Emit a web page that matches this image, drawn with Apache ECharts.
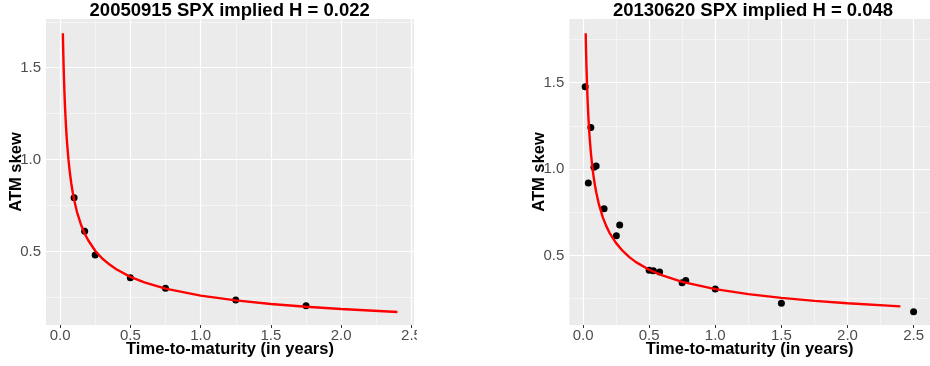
<!DOCTYPE html>
<html>
<head>
<meta charset="utf-8">
<script src="https://cdn.jsdelivr.net/npm/echarts@6/dist/echarts.min.js"></script>
<style>
  html, body { margin: 0; padding: 0; background: #ffffff; }
  #chart { width: 930px; height: 366px; }
</style>
</head>
<body>
<div id="chart"></div>
<script>
// ---------- data ----------
const leftTitle = '20050915 SPX implied H = 0.022';
const rightTitle = '20130620 SPX implied H = 0.048';
const xName = 'Time-to-maturity (in years)';
const yName = 'ATM skew';

// observed ATM skews (points)
const leftT    = [0.1, 0.175, 0.25, 0.5, 0.75, 1.25, 1.75];
const leftSkew = [0.793, 0.610, 0.481, 0.357, 0.300, 0.236, 0.205];

const rightT    = [0.016, 0.04, 0.059, 0.082, 0.099, 0.159, 0.252, 0.277, 0.5, 0.532, 0.579, 0.749, 0.777, 1.0, 1.5, 2.5];
const rightSkew = [1.476, 0.920, 1.240, 1.010, 1.018, 0.770, 0.614, 0.676, 0.414, 0.411, 0.404, 0.342, 0.354, 0.305, 0.223, 0.174];

// fitted curves
const curveT         = [0.02, 0.022, 0.025, 0.03, 0.035, 0.04, 0.045, 0.05, 0.06, 0.07, 0.08, 0.09, 0.1, 0.12, 0.15, 0.175, 0.2, 0.25, 0.3, 0.35, 0.4, 0.5, 0.6, 0.75, 1.0, 1.25, 1.5, 1.75, 2.0, 2.4];
const leftCurveSkew  = [1.687, 1.612, 1.516, 1.390, 1.290, 1.211, 1.145, 1.089, 0.998, 0.927, 0.870, 0.822, 0.782, 0.716, 0.644, 0.598, 0.561, 0.504, 0.462, 0.430, 0.403, 0.362, 0.332, 0.298, 0.260, 0.234, 0.214, 0.199, 0.187, 0.171];
const rightCurveSkew = [1.787, 1.712, 1.616, 1.488, 1.388, 1.307, 1.239, 1.181, 1.088, 1.014, 0.955, 0.906, 0.864, 0.795, 0.719, 0.671, 0.631, 0.571, 0.526, 0.490, 0.461, 0.417, 0.384, 0.347, 0.305, 0.276, 0.254, 0.237, 0.223, 0.205];

// ticks and grid lines
const xTicks = [0, 0.5, 1.0, 1.5, 2.0, 2.5];
const xMinor = [0.25, 0.75, 1.25, 1.75, 2.25];
const yTicks = [0.5, 1.0, 1.5];
const yMinor = [0.25, 0.75, 1.25, 1.75];

// axis ranges (ggplot-style expanded)
const leftXRange  = [-0.1, 2.518];
const leftYRange  = [0.1, 1.765];
const rightXRange = [-0.104, 2.624];
const rightYRange = [0.097, 1.869];

// ---------- chart ----------
const FONT = 'Liberation Sans, Arial, sans-serif';
const zip = (a, b) => a.map((v, i) => [v, b[i]]);

function xAxisOpt(gi, range) {
  return {
    type: 'value', gridIndex: gi, min: range[0], max: range[1],
    name: xName, nameLocation: 'middle', nameGap: 16, nameMoveOverlap: false,
    nameTextStyle: { fontFamily: FONT, fontSize: 16.5, fontWeight: 'bold', color: '#000' },
    axisLine: { show: false },
    axisTick: { show: true, length: 3, lineStyle: { color: '#333333', width: 1 }, customValues: xTicks },
    axisLabel: { margin: 3, fontFamily: FONT, fontSize: 15, color: '#4D4D4D',
                 customValues: xTicks, formatter: v => v.toFixed(1) },
    splitLine: { show: false }
  };
}
function yAxisOpt(gi, range) {
  return {
    type: 'value', gridIndex: gi, min: range[0], max: range[1],
    name: yName, nameLocation: 'middle', nameGap: 21, nameRotate: 90, nameMoveOverlap: false,
    nameTextStyle: { fontFamily: FONT, fontSize: 16.5, fontWeight: 'bold', color: '#000' },
    axisLine: { show: false },
    axisTick: { show: true, length: 3, lineStyle: { color: '#333333', width: 1 }, customValues: yTicks },
    axisLabel: { margin: 5, fontFamily: FONT, fontSize: 15, color: '#4D4D4D',
                 customValues: yTicks, formatter: v => v.toFixed(1) },
    splitLine: { show: false }
  };
}
function gridSeries(gi) {
  const major = { color: '#FFFFFF', width: 1.2, type: 'solid' };
  const minor = { color: '#F7F7F7', width: 0.8, type: 'solid' };
  const data = []
    .concat(xMinor.map(v => ({ xAxis: v, lineStyle: minor })))
    .concat(yMinor.map(v => ({ yAxis: v, lineStyle: minor })))
    .concat(xTicks.map(v => ({ xAxis: v, lineStyle: major })))
    .concat(yTicks.map(v => ({ yAxis: v, lineStyle: major })));
  return {
    type: 'line', xAxisIndex: gi, yAxisIndex: gi, data: [], z: 1, silent: true,
    markLine: { silent: true, symbol: ['none', 'none'], z: 1, animation: false,
                label: { show: false }, emphasis: { disabled: true }, data: data }
  };
}
function pointSeries(gi, t, s) {
  return { type: 'scatter', xAxisIndex: gi, yAxisIndex: gi, data: zip(t, s),
           symbolSize: 7, itemStyle: { color: '#000000', opacity: 1 }, z: 3, silent: true };
}
function curveSeries(gi, s) {
  return { type: 'line', xAxisIndex: gi, yAxisIndex: gi, data: zip(curveT, s),
           showSymbol: false, smooth: false,
           lineStyle: { color: '#FF0000', width: 2.4 }, z: 4, silent: true };
}

const chart = echarts.init(document.getElementById('chart'), null, { renderer: 'canvas' });
chart.setOption({
  animation: false,
  backgroundColor: '#FFFFFF',
  title: [
    { text: leftTitle, left: 229.7, top: 1.5, padding: 0, textAlign: 'center',
      textStyle: { fontFamily: FONT, fontSize: 18.5, fontWeight: 'bold', color: '#000' } },
    { text: rightTitle, left: 753, top: 1.5, padding: 0, textAlign: 'center',
      textStyle: { fontFamily: FONT, fontSize: 18.5, fontWeight: 'bold', color: '#000' } }
  ],
  grid: [
    { left: 46, top: 19, width: 368, height: 306, show: true, backgroundColor: '#EBEBEB', borderWidth: 0, containLabel: false },
    { left: 569.3, top: 19, width: 368, height: 306, show: true, backgroundColor: '#EBEBEB', borderWidth: 0, containLabel: false }
  ],
  xAxis: [xAxisOpt(0, leftXRange), xAxisOpt(1, rightXRange)],
  yAxis: [yAxisOpt(0, leftYRange), yAxisOpt(1, rightYRange)],
  series: [
    gridSeries(0), gridSeries(1),
    pointSeries(0, leftT, leftSkew), pointSeries(1, rightT, rightSkew),
    curveSeries(0, leftCurveSkew), curveSeries(1, rightCurveSkew)
  ],
  graphic: [
    { type: 'rect', left: 417, top: 326, shape: { width: 40, height: 18 }, style: { fill: '#FFFFFF' }, z: 100, silent: true }
  ]
});
</script>
</body>
</html>
